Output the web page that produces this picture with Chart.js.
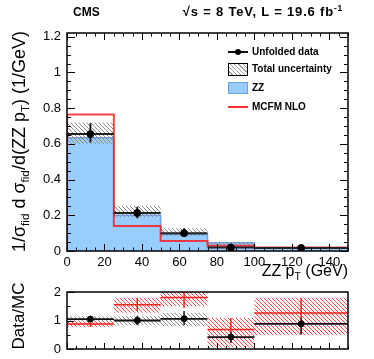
<!DOCTYPE html>
<html>
<head>
<meta charset="utf-8">
<script src="https://cdn.jsdelivr.net/npm/chart.js@4.4.1/dist/chart.umd.min.js"></script>
<style>
  body { margin: 0; background: #fff; font-family: "Liberation Sans", Arial, sans-serif; }
  #wrap { position: relative; width: 374px; height: 359px; overflow: hidden; }
  canvas { position: absolute; left: 0; }
  .txt { position: absolute; white-space: nowrap; color: #000; }
  .b { font-weight: bold; }
  sub { font-size: 65%; vertical-align: -0.35em; line-height: 0; }
  sup { font-size: 65%; vertical-align: 0.6em; line-height: 0; }
  .leg { position: absolute; left: 252px; font-size: 10px; font-weight: bold; }
</style>
</head>
<body>
<div id="wrap">
  <canvas id="mainChart" width="374" height="275" style="top:0"></canvas>
  <canvas id="ratioChart" width="374" height="110" style="top:270px"></canvas>

  <div class="txt b" style="left:73px;top:5px;font-size:12px;">CMS</div>
  <div class="txt b" style="right:31px;top:4px;font-size:13px;letter-spacing:0.8px;">√s = 8 TeV, L = 19.6 fb<sup>-1</sup></div>

  <div class="txt" style="left:-121px;top:131px;width:280px;text-align:center;font-size:18px;transform:rotate(-90deg);">1/σ<sub>fid</sub> d σ<sub>fid</sub>/d(ZZ p<sub>T</sub>) (1/GeV)</div>
  <div class="txt" style="right:26px;top:262px;font-size:16px;">ZZ p<sub>T</sub> (GeV)</div>
  <div class="txt" style="left:-21px;top:306px;width:80px;text-align:center;font-size:17px;transform:rotate(-90deg);">Data/MC</div>

  <!-- legend -->
  <div style="position:absolute;left:228px;top:51px;width:20px;height:2px;background:#111;"></div>
  <div style="position:absolute;left:235px;top:49px;width:6px;height:6px;border-radius:50%;background:#000;"></div>
  <div class="leg" style="top:46px;">Unfolded data</div>
  <div style="position:absolute;left:228px;top:63px;width:18px;height:11px;border:1px solid #000;background:repeating-linear-gradient(45deg,#fff 0px,#fff 2px,#999 2px,#999 3px);"></div>
  <div class="leg" style="top:63px;">Total uncertainty</div>
  <div style="position:absolute;left:228px;top:82px;width:18px;height:10px;border:1px solid #6fa0e8;background:#99ccff;"></div>
  <div class="leg" style="top:82px;">ZZ</div>
  <div style="position:absolute;left:228px;top:106px;width:20px;height:2px;background:#ff3030;"></div>
  <div class="leg" style="top:101px;">MCFM NLO</div>
</div>

<script>
// ---- values ----
const binEdges = [0, 25, 50, 75, 100, 150];
const binCenters = [12.5, 37.5, 62.5, 87.5, 125];

// main panel
const dataVals  = [0.655, 0.213, 0.100, 0.020, 0.017];
const dataErrLo = [0.607, 0.183, 0.080, 0.014, 0.013];
const dataErrHi = [0.715, 0.248, 0.127, 0.026, 0.021];
const zzVals    = [0.635, 0.200, 0.093, 0.046, 0.015];
const uncLo     = [0.600, 0.190, 0.085, 0.028, 0.012];
const uncHi     = [0.720, 0.252, 0.128, 0.050, 0.023];
const mcfmVals  = [0.765, 0.140, 0.056, 0.030, 0.019];

// ratio panel
const ratioZZ     = [1.05, 1.00, 1.06, 0.42, 0.88];
const ratioZZLo   = [0.99, 0.83, 0.83, 0.21, 0.52];
const ratioZZHi   = [1.11, 1.17, 1.33, 0.60, 1.10];
const bandZZLo    = [0.80, 0.83, 0.80, 0.30, 0.52];
const bandZZHi    = [1.15, 1.15, 1.27, 0.55, 1.12];
const ratioMC     = [0.88, 1.55, 1.81, 0.68, 1.26];
const ratioMCLo   = [0.77, 1.33, 1.44, 0.23, 0.50];
const ratioMCHi   = [0.97, 1.79, 2.10, 1.09, 1.79];
const bandMCLo    = [0.78, 1.27, 1.50, 0.05, 0.50];
const bandMCHi    = [0.98, 1.80, 2.05, 1.09, 1.80];

// axes
const xTicks = [0, 20, 40, 60, 80, 100, 120, 140];
const mainYTicks = [0, 0.2, 0.4, 0.6, 0.8, 1.0, 1.2];
const mainYLabels = ['0', '0.2', '0.4', '0.6', '0.8', '1', '1.2'];
const ratioYTicks = [0, 1, 2];
const ratioYLabels = ['0', '1', '2'];

const FONT = '"Liberation Sans", Arial, sans-serif';

// ---- helpers ----
function stepLine(vals, startAtZero) {
  const pts = [];
  if (startAtZero) pts.push({ x: binEdges[0], y: 0 });
  vals.forEach((v, i) => pts.push({ x: binEdges[i], y: v }));
  pts.push({ x: binEdges[binEdges.length - 1], y: vals[vals.length - 1] });
  return pts;
}
function hBars(vals) {
  const pts = [];
  vals.forEach((v, i) => {
    pts.push({ x: binEdges[i], y: v }, { x: binEdges[i + 1], y: v }, { x: binEdges[i], y: null });
  });
  return pts;
}
function vBars(lo, hi) {
  const pts = [];
  lo.forEach((l, i) => {
    pts.push({ x: binCenters[i], y: l }, { x: binCenters[i], y: hi[i] }, { x: binCenters[i], y: null });
  });
  return pts;
}
function hatch(color, gap) {
  const c = document.createElement('canvas');
  c.width = gap; c.height = gap;
  const g = c.getContext('2d');
  g.strokeStyle = color; g.lineWidth = 1;
  g.beginPath();
  g.moveTo(0, 0); g.lineTo(gap, gap);
  g.moveTo(-1, gap - 1); g.lineTo(1, gap + 1);
  g.moveTo(gap - 1, -1); g.lineTo(gap + 1, 1);
  g.stroke();
  return g.createPattern(c, 'repeat');
}
function line(data, color, width, extra) {
  return Object.assign({
    type: 'line', data, borderColor: color, borderWidth: width,
    pointRadius: 0, fill: false, spanGaps: false, tension: 0
  }, extra || {});
}

// ROOT-like frame with inward ticks
const rootFrame = {
  id: 'rootFrame',
  afterDraw(chart, args, o) {
    const { ctx, chartArea: a, scales: { x, y } } = chart;
    ctx.save();
    ctx.strokeStyle = '#000';
    ctx.lineWidth = 1;
    ctx.beginPath();
    const tick = (px, isX, len, side) => {
      if (isX) {
        const yy = side === 'bottom' ? a.bottom : a.top;
        const d = side === 'bottom' ? -len : len;
        ctx.moveTo(Math.round(px) + 0.5, yy); ctx.lineTo(Math.round(px) + 0.5, yy + d);
      } else {
        const xx = side === 'left' ? a.left : a.right;
        const d = side === 'left' ? len : -len;
        ctx.moveTo(xx, Math.round(px) + 0.5); ctx.lineTo(xx + d, Math.round(px) + 0.5);
      }
    };
    for (let v = x.min; v <= x.max + 1e-9; v += o.xMinor) {
      const major = Math.abs(v / o.xMajor - Math.round(v / o.xMajor)) < 1e-6;
      o.xSides.forEach(s => tick(x.getPixelForValue(v), true, major ? o.xLen : o.xLen / 2, s));
    }
    for (let v = y.min; v <= y.max + 1e-9; v += o.yMinor) {
      const major = Math.abs(v / o.yMajor - Math.round(v / o.yMajor)) < 1e-6;
      o.ySides.forEach(s => tick(y.getPixelForValue(v), false, major ? o.yLen : o.yLen / 2, s));
    }
    ctx.stroke();
    ctx.lineWidth = 1.5;
    ctx.strokeRect(a.left, a.top, a.right - a.left, a.bottom - a.top);
    ctx.restore();
  }
};

function baseOptions(yMax, yTicks, yLabels, showX, pad) {
  return {
    responsive: false,
    animation: false,
    devicePixelRatio: 1,
    layout: { padding: pad },
    plugins: { legend: { display: false }, tooltip: { enabled: false } },
    scales: {
      x: {
        type: 'linear', min: 0, max: 150, display: showX,
        grid: { display: false, drawTicks: false }, border: { display: false },
        afterBuildTicks: s => { s.ticks = xTicks.map(v => ({ value: v })); },
        afterFit: s => { s.height = showX ? 24 : 0; },
        ticks: { autoSkip: false, maxRotation: 0, padding: 4, color: '#000',
                 font: { family: FONT, size: 13 }, callback: v => String(v) }
      },
      y: {
        type: 'linear', min: 0, max: yMax,
        grid: { display: false, drawTicks: false }, border: { display: false },
        afterBuildTicks: s => { s.ticks = yTicks.map(v => ({ value: v })); },
        afterFit: s => { s.width = 67; },
        ticks: { autoSkip: false, padding: 6, color: '#000',
                 font: { family: FONT, size: 13 },
                 callback: v => yLabels[yTicks.findIndex(t => Math.abs(t - v) < 1e-9)] }
      }
    }
  };
}

const grayHatch = hatch('#8a8a8a', 4);
const redHatch = hatch('rgba(255,60,60,0.9)', 4);
const STEP = 'before';

// ---- main panel ----
const mainOpts = baseOptions(1.221, mainYTicks, mainYLabels, true, { top: 33, right: 26, left: 0, bottom: 0 });
mainOpts.plugins.rootFrame = { xMajor: 20, xMinor: 5, xLen: 7, xSides: ['bottom', 'top'],
                               yMajor: 0.2, yMinor: 0.05, yLen: 8, ySides: ['left', 'right'] };
new Chart(document.getElementById('mainChart'), {
  type: 'line',
  data: {
    datasets: [
      { type: 'scatter', data: binCenters.map((x, i) => ({ x, y: dataVals[i] })),
        pointRadius: 3.5, pointBackgroundColor: '#000', pointBorderColor: '#000', showLine: false, order: 0 },
      line(vBars(dataErrLo, dataErrHi), '#111', 1.8, { order: 1 }),
      line(hBars(dataVals), '#222', 2, { order: 2 }),
      line(stepLine(mcfmVals, true), 'rgba(255,20,20,0.8)', 2, { stepped: STEP, order: 3 }),
      line(stepLine(uncHi, false), 'rgba(0,0,0,0)', 0, { stepped: STEP, fill: '+1', backgroundColor: grayHatch, order: 4 }),
      line(stepLine(uncLo, false), 'rgba(0,0,0,0)', 0, { stepped: STEP, order: 5 }),
      line(stepLine(zzVals, true), '#6fa0e8', 1.5, { stepped: STEP, fill: 'origin', backgroundColor: '#99ccff', order: 6 })
    ]
  },
  options: mainOpts,
  plugins: [rootFrame]
});

// ---- ratio panel ----
const ratioOpts = baseOptions(2, ratioYTicks, ratioYLabels, false, { top: 22, right: 26, left: 0, bottom: 31 });
ratioOpts.plugins.rootFrame = { xMajor: 20, xMinor: 5, xLen: 6, xSides: ['bottom'],
                                yMajor: 1, yMinor: 0.5, yLen: 7, ySides: ['left'] };
new Chart(document.getElementById('ratioChart'), {
  type: 'line',
  data: {
    datasets: [
      { type: 'scatter', data: binCenters.map((x, i) => ({ x, y: ratioZZ[i] })),
        pointRadius: 3, pointBackgroundColor: '#000', pointBorderColor: '#000', showLine: false, order: 0 },
      line(vBars(ratioZZLo, ratioZZHi), '#222', 1.5, { order: 1 }),
      line(hBars(ratioZZ), '#111', 1.8, { order: 2 }),
      line(vBars(ratioMCLo, ratioMCHi), '#ff2020', 1.5, { order: 3 }),
      line(hBars(ratioMC), '#ff2020', 1.5, { order: 4 }),
      line(stepLine(bandMCHi, false), 'rgba(0,0,0,0)', 0, { stepped: STEP, fill: '+1', backgroundColor: redHatch, order: 5 }),
      line(stepLine(bandMCLo, false), 'rgba(0,0,0,0)', 0, { stepped: STEP, order: 6 }),
      line(stepLine(bandZZHi, false), 'rgba(0,0,0,0)', 0, { stepped: STEP, fill: '+1', backgroundColor: grayHatch, order: 7 }),
      line(stepLine(bandZZLo, false), 'rgba(0,0,0,0)', 0, { stepped: STEP, order: 8 })
    ]
  },
  options: ratioOpts,
  plugins: [rootFrame]
});
</script>
</body>
</html>
